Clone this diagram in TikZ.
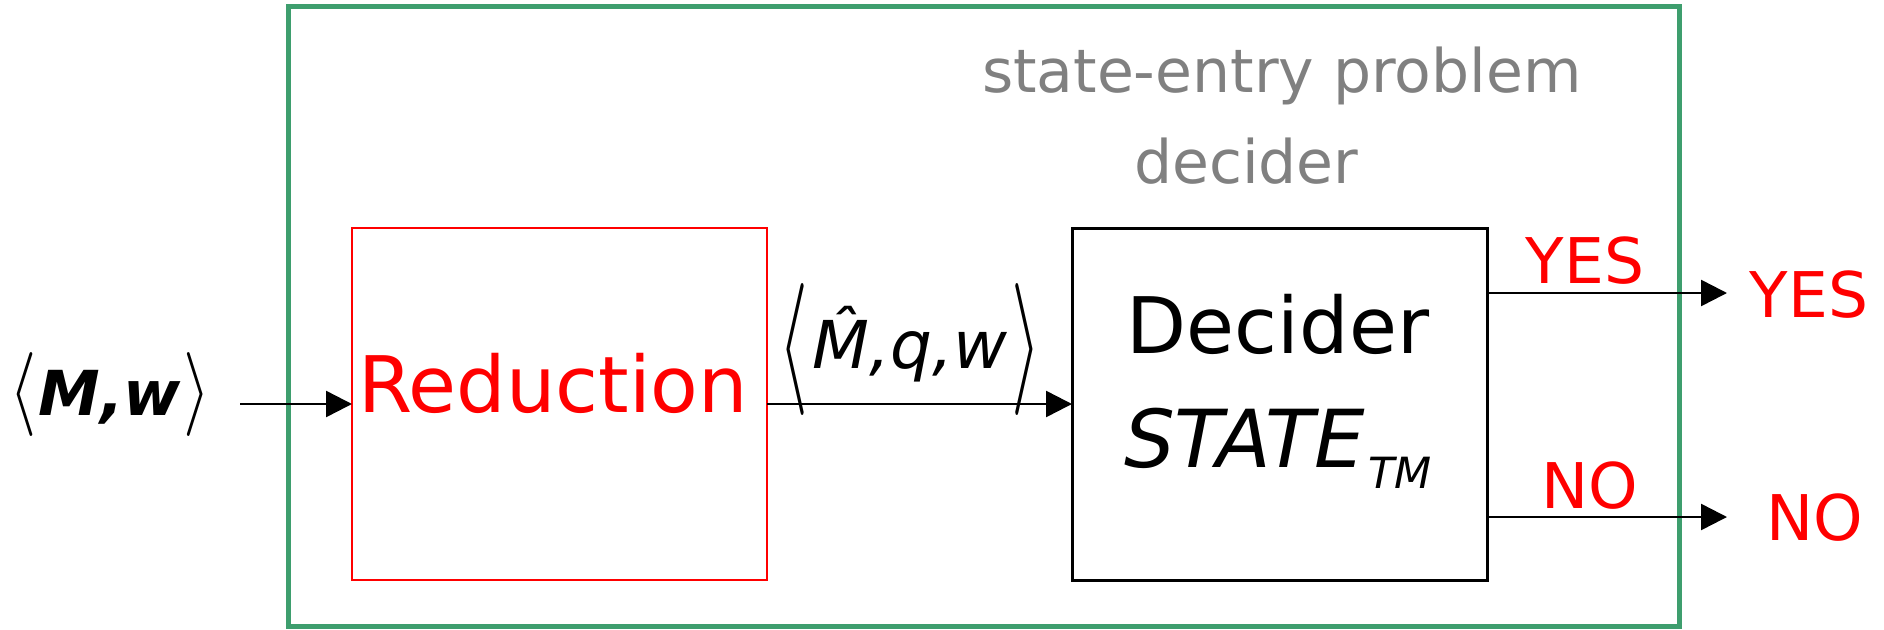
\documentclass[tikz,border=0pt]{standalone}
\usepackage{fontspec}
\setmainfont{DejaVu Sans}
\usepackage{graphicx}
\usetikzlibrary{arrows.meta}
\definecolor{frameg}{RGB}{62,158,110}
\definecolor{titleg}{RGB}{128,128,128}
\begin{document}
\begin{tikzpicture}[x=1pt,y=-1pt,
  every node/.style={inner sep=0pt, outer sep=0pt},
  arr/.style={-{Triangle[length=26pt,width=26pt]}, line width=2.5pt},
  box/.style={minimum width=415pt, minimum height=352pt},
  lbl/.style={anchor=base, text=red, font=\fontsize{63}{70}\selectfont},
  brk/.style={anchor=base}]
\useasboundingbox (0,0) rectangle (1884,629);
\fill[white] (0,0) rectangle (1884,629);
\node[draw=frameg, line width=5pt, minimum width=1391pt, minimum height=620pt, anchor=north west] (frame) at (288,6) {};
\node[box, draw=red, line width=2.5pt] (red) at (559.5,404) {};
\node[box, draw=black, line width=3pt] (dec) at (1279.5,404) {};
\node[anchor=base, text=red, font=\fontsize{78}{80}\selectfont] (redtxt) at (553,412) {Reduction};
\node[anchor=base, align=center, font=\fontsize{78}{114}\selectfont] (dectxt) at (1278,467) {Decider\\{\fontsize{80}{114}\selectfont\itshape STATE\hspace{4pt}\raisebox{-21pt}{\fontsize{43}{43}\selectfont TM}}};
\node[anchor=base west, align=left, text=titleg, font=\fontsize{60}{91}\selectfont] (title) at (982,183) {state-entry problem\\\hspace*{152pt}decider};
\node[brk, font=\fontsize{62}{70}\selectfont] (in) at (110,415) {\scalebox{7}[8.4]{\normalsize$\langle$}\hspace{2pt}{\bfseries\itshape M,w}\hspace{2pt}\scalebox{7}[8.4]{\normalsize$\rangle$}};
\node[brk, font=\fontsize{66}{70}\selectfont] (mid) at (910,368) {\raisebox{-14pt}{\scalebox{7.7}[13.2]{\normalsize$\langle$}}\hspace{4pt}{\itshape M^^^^0302,q,w}\hspace{4pt}\raisebox{-14pt}{\scalebox{7.7}[13.2]{\normalsize$\rangle$}}};
\coordinate (instart) at (240,404);
\coordinate (yesend) at (1727,293);
\coordinate (noend) at (1727,517);
\draw[arr] (instart) -- (red.west);
\draw[arr] (red.east) -- (dec.west);
\draw[arr] (dec.east |- yesend) -- (yesend);
\draw[arr] (dec.east |- noend) -- (noend);
\node[lbl] (yeslbl) at (1585,283) {YES};
\node[lbl] (yesout) at (1809,317) {YES};
\node[lbl] (nolbl) at (1590,508) {NO};
\node[lbl] (noout) at (1815,540) {NO};
\end{tikzpicture}
\end{document}
